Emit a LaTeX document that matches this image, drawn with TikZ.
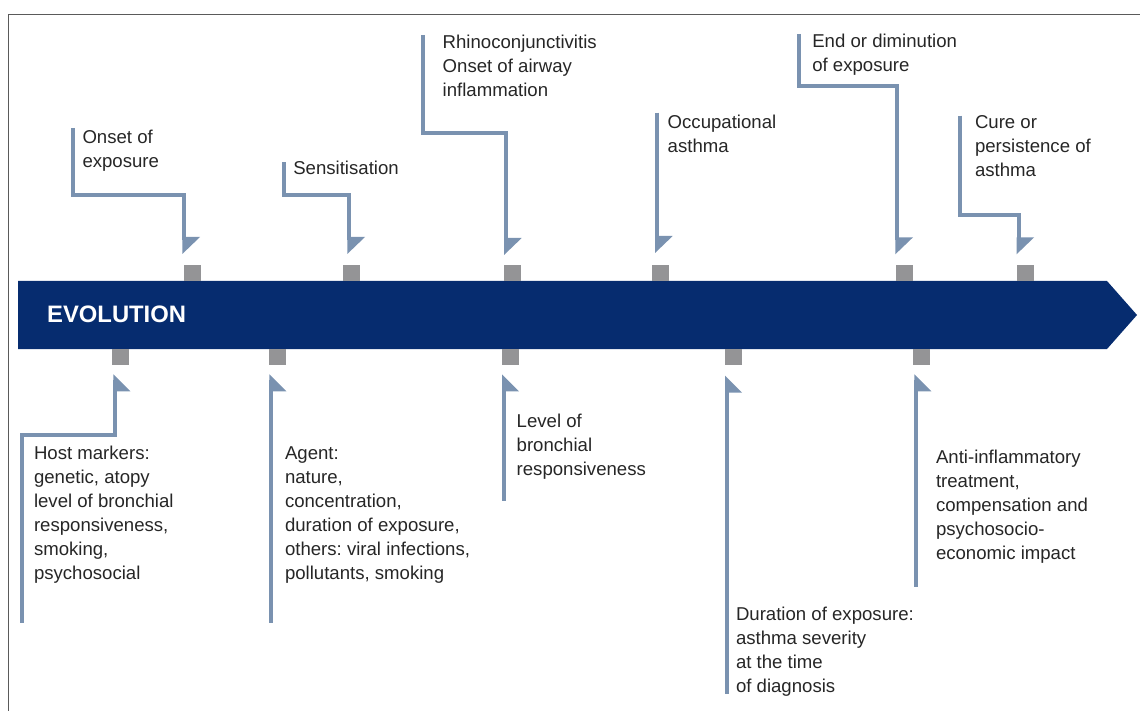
\documentclass[tikz,border=0pt]{standalone}
\usepackage{fontspec}
\setmainfont{Liberation Sans}
\usetikzlibrary{calc}
\frenchspacing
\definecolor{navy}{RGB}{6,44,111}
\definecolor{connc}{RGB}{122,146,176}
\definecolor{sqc}{RGB}{148,148,150}
\definecolor{txtc}{RGB}{38,38,38}
\definecolor{framec}{RGB}{90,90,90}
\newcommand\dnhead[1]{\fill[connc] ($(#1)+(-2,-3)$) -- ++(17.7,0) -- ++(-17.7,17) -- cycle;}
\newcommand\uphead[1]{\fill[connc] ($(#1)+(-2,-5.7)$) -- ++(17,17) -- ++(-17,0) -- cycle;}
\tikzset{
  conn/.style={draw=connc, line width=4pt, line join=miter, line cap=butt},
  lbl/.style={anchor=north west, inner sep=0pt, outer sep=0pt, align=left, text=txtc,
    font=\fontsize{18.6}{24}\selectfont\frenchspacing},
  sq/.style={fill=sqc, draw=none, minimum width=17pt, minimum height=16.5pt, inner sep=0pt},
}
\begin{document}
\begin{tikzpicture}[x=1pt,y=-1pt]
\useasboundingbox (0,0) rectangle (1140,711);
% frame
\draw[framec, line width=1.5pt] (8.3,711) -- (8.3,14.7) -- (1140,14.7);
% banner
\fill[navy] (18,281) -- (1107,281) -- (1137,315) -- (1107,349) -- (18,349) -- cycle;
\node[anchor=base west, inner sep=0pt, text=white, font=\fontsize{23.8}{28}\selectfont\bfseries] (evo) at (47,322.5) {EVOLUTION};
% squares
\node[sq] (s1) at (192.5,273) {};
\node[sq] (s2) at (351.7,273) {};
\node[sq] (s3) at (512.3,273) {};
\node[sq] (s4) at (660.7,273) {};
\node[sq] (s5) at (904.3,273) {};
\node[sq] (s6) at (1025.7,273) {};
\node[sq] (q1) at (120.3,357.2) {};
\node[sq] (q2) at (277.7,357.2) {};
\node[sq] (q3) at (510.5,357.2) {};
\node[sq] (q4) at (733.3,357.2) {};
\node[sq] (q5) at (921.3,357.2) {};
% top labels
\node[lbl] (l1) at (82.5,127.2) {\strut Onset of\\exposure};
\node[lbl] (l2) at (293.3,158.2) {\strut Sensitisation};
\node[lbl] (l3) at (442.7,31.5) {\strut Rhinoconjunctivitis\\Onset of airway\\inflammation};
\node[lbl] (l4) at (667.7,111.5) {\strut Occupational\\asthma};
\node[lbl] (l5) at (812.3,31.2) {\strut End or diminution\\of exposure};
\node[lbl] (l6) at (975,112.2) {\strut Cure or\\persistence of\\asthma};
% bottom labels
\node[lbl] (m1) at (34,442.7) {\strut Host markers:\\genetic, atopy\\level of bronchial\\responsiveness,\\smoking,\\psychosocial};
\node[lbl] (m2) at (285,442.7) {\strut Agent:\\nature,\\concentration,\\duration of exposure,\\others: viral infections,\\pollutants, smoking};
\node[lbl] (m3) at (516.7,410.7) {\strut Level of\\bronchial\\responsiveness};
\node[lbl] (m4) at (736,603.2) {\strut Duration of exposure:\\asthma severity\\at the time\\of diagnosis};
\node[lbl] (m5) at (936,446.7) {\strut Anti-inflammatory\\treatment,\\compensation and\\psychosocio-\\economic impact};
% top connector coordinates
\coordinate (t1a) at (73,128);   \coordinate (t1h) at (184.3,195);   \coordinate (t1e) at (184.3,240);
\coordinate (t2a) at (284,162.3); \coordinate (t2h) at (349.3,195);   \coordinate (t2e) at (349.3,240);
\coordinate (t3a) at (423,35);    \coordinate (t3h) at (506,133);     \coordinate (t3e) at (506,241);
\coordinate (t4a) at (657,112.7); \coordinate (t4e) at (657,239);
\coordinate (t5a) at (799,34);    \coordinate (t5h) at (897.3,86);    \coordinate (t5e) at (897.3,240.3);
\coordinate (t6a) at (960,115.7); \coordinate (t6h) at (1018.5,214.7);\coordinate (t6e) at (1018.5,240.3);
\draw[conn] (t1a) |- (t1h) -- (t1e);
\draw[conn] (t2a) |- (t2h) -- (t2e);
\draw[conn] (t3a) |- (t3h) -- (t3e);
\draw[conn] (t4a) -- (t4e);
\draw[conn] (t5a) |- (t5h) -- (t5e);
\draw[conn] (t6a) |- (t6h) -- (t6e);
\dnhead{t1e}\dnhead{t2e}\dnhead{t3e}\dnhead{t4e}\dnhead{t5e}\dnhead{t6e}
% bottom connector coordinates
\coordinate (b1s) at (115.3,380); \coordinate (b1h) at (22.3,435.3); \coordinate (b1e) at (22.3,622.7);
\coordinate (b2s) at (271.3,380); \coordinate (b2e) at (271.3,622.7);
\coordinate (b3s) at (504,380);   \coordinate (b3e) at (504,501);
\coordinate (b4s) at (727,381.4); \coordinate (b4e) at (727,694);
\coordinate (b5s) at (916.3,380); \coordinate (b5e) at (916.3,586.7);
\draw[conn] (b1s) |- (b1h) -- (b1e);
\draw[conn] (b2s) -- (b2e);
\draw[conn] (b3s) -- (b3e);
\draw[conn] (b4s) -- (b4e);
\draw[conn] (b5s) -- (b5e);
\uphead{b1s}\uphead{b2s}\uphead{b3s}\uphead{b4s}\uphead{b5s}
\end{tikzpicture}
\end{document}
